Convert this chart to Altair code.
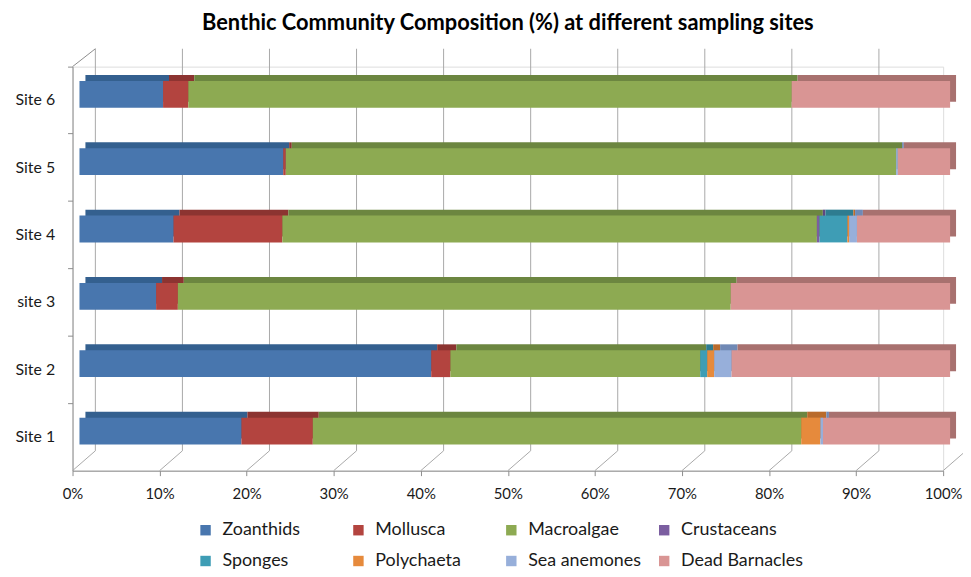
import altair as alt
import pandas as pd

sites = ["Site 6", "Site 5", "Site 4", "site 3", "Site 2", "Site 1"]
groups = ["Zoanthids", "Mollusca", "Macroalgae", "Crustaceans",
          "Sponges", "Polychaeta", "Sea anemones", "Dead Barnacles"]

# percentages per site, in the order of `groups`
site1 = [18.6, 8.2, 56.1, 0.0, 0.0, 2.2, 0.3, 14.6]
site2 = [40.4, 2.2, 28.7, 0.0, 0.8, 0.8, 2.0, 25.1]
site3 = [8.8, 2.5, 63.5, 0.0, 0.0, 0.0, 0.0, 25.2]
site4 = [10.8, 12.5, 61.4, 0.3, 3.2, 0.2, 0.9, 10.7]
site5 = [23.4, 0.3, 70.1, 0.0, 0.0, 0.0, 0.2, 6.0]
site6 = [9.6, 2.9, 69.3, 0.0, 0.0, 0.0, 0.0, 18.2]

tick_values = [0, 10, 20, 30, 40, 50, 60, 70, 80, 90, 100]

front_colors = ["#4876AE", "#B3443F", "#8DAA52", "#7B5EA0",
                "#3E9DB5", "#E68A3C", "#97AFDA", "#D99594"]
top_colors = ["#34608F", "#8C3431", "#6C8640", "#5E4680",
              "#2E7C90", "#B96B2C", "#7089B5", "#A8716F"]

rows = []
for name, vals in [("Site 1", site1), ("Site 2", site2), ("site 3", site3),
                   ("Site 4", site4), ("Site 5", site5), ("Site 6", site6)]:
    for i, (g, v) in enumerate(zip(groups, vals)):
        rows.append({"site": name, "group": g, "idx": i, "value": v})
df = pd.DataFrame(rows)

ticks = pd.DataFrame({"t": tick_values})

FONT = "Lato"
GRID = "#A8A8A8"
AXIS = "#8C8C8C"

xscale = alt.Scale(domain=[0, 100], nice=False, zero=True)
yscale = alt.Scale(domain=sites, paddingInner=0, paddingOuter=0)

x_axis = alt.Axis(title=None, values=tick_values, grid=False,
                  labelExpr="datum.value + '%'", labelFlush=False,
                  domainColor=AXIS, tickColor=AXIS, tickSize=5,
                  labelFont=FONT, labelFontSize=15,
                  labelColor="#1a1a1a", labelPadding=11)
y_axis = alt.Axis(title=None, bandPosition=0, grid=False,
                  domainColor=AXIS, tickColor=AXIS, tickSize=5,
                  labelFont=FONT, labelFontSize=16,
                  labelColor="#1a1a1a", labelPadding=13)

grid = alt.Chart(ticks).mark_rule(color=GRID, strokeWidth=1,
                                  xOffset=23).encode(
    x=alt.X("t:Q", scale=xscale, axis=x_axis),
    y=alt.value(-18), y2=alt.value(387))

floor_diag = alt.Chart(ticks).mark_rule(color=GRID, strokeWidth=1,
                                        xOffset=0, x2Offset=23).encode(
    x=alt.X("t:Q", scale=xscale, axis=x_axis), x2="t:Q",
    y=alt.value(407), y2=alt.value(387))

wall_diag = alt.Chart(ticks).transform_filter("datum.t == 0").mark_rule(
    color=AXIS, strokeWidth=1, xOffset=0, x2Offset=23).encode(
    x=alt.X("t:Q", scale=xscale, axis=x_axis), x2="t:Q",
    y=alt.value(0), y2=alt.value(-18))

stacked = alt.Chart(df).transform_filter("datum.value > 0").transform_stack(
    stack="value", groupby=["site"], sort=[alt.SortField("idx", "ascending")],
    as_=["x0", "x1"])

back = stacked.mark_bar(size=27, xOffset=13, x2Offset=13,
                        yOffset=-12, y2Offset=-12).encode(
    x=alt.X("x0:Q", scale=xscale, axis=x_axis), x2="x1:Q",
    y=alt.Y("site:N", scale=yscale, sort=sites, axis=y_axis),
    color=alt.Color("group:N", scale=alt.Scale(domain=groups, range=top_colors),
                    legend=None))

front = stacked.mark_bar(size=27, xOffset=7, x2Offset=7,
                         yOffset=-6, y2Offset=-6).encode(
    x=alt.X("x0:Q", scale=xscale, axis=x_axis), x2="x1:Q",
    y=alt.Y("site:N", scale=yscale, sort=sites, axis=y_axis),
    color=alt.Color("group:N",
                    scale=alt.Scale(domain=groups, range=front_colors),
                    legend=alt.Legend(title=None, orient="none",
                                      legendX=125, legendY=458,
                                      direction="horizontal", columns=4,
                                      symbolType="square", symbolSize=110,
                                      symbolStrokeWidth=0, symbolOffset=0,
                                      labelFont=FONT, labelFontSize=18,
                                      labelColor="#1a1a1a", labelOffset=8,
                                      columnPadding=5, rowPadding=13,
                                      gridAlign="all", padding=0,
                                      labelLimit=300)))

chart = alt.layer(grid, floor_diag, wall_diag, back, front).resolve_scale(
    color="independent"
).properties(
    width=877, height=407,
    padding={"left": 65, "top": 57, "right": 20, "bottom": 97},
    autosize=alt.AutoSizeParams(type="none"),
    title=alt.TitleParams(
        "Benthic Community Composition (%) at different sampling sites",
        font=FONT, fontSize=22, fontWeight="bold", color="#000000",
        anchor="middle", offset=13),
).configure_view(stroke=None).configure(background="white")

chart.save("out.html", embed_options={"renderer": "svg", "actions": False})
